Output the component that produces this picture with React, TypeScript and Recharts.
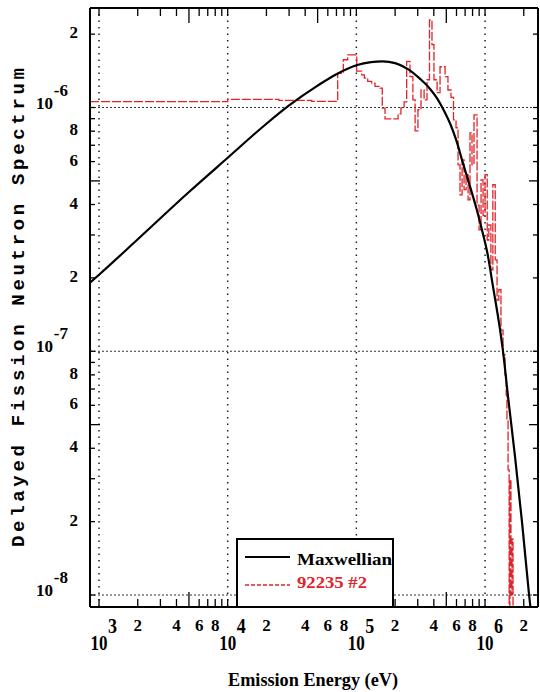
import React from 'react'
import { LineChart, Line, XAxis, YAxis, ReferenceLine, Legend } from 'recharts'

// ─── Data (eV, spectrum) ────────────────────────────────────────────
const MAXW_E = [
  851, 1000, 2000, 5000, 10000, 20000, 30000, 50000, 70000, 100000, 130000,
  160000, 200000, 250000, 313000, 370000, 424000, 480000, 540000, 600000,
  674000, 764000, 866000, 965000, 1040000, 1150000, 1310000, 1380000,
  1510000, 1710000, 1940000, 2200000, 2400000,
]
const MAXW_FLUX = [
  1.91e-7, 2.06e-7, 2.88e-7, 4.5e-7, 6.22e-7, 8.58e-7, 1.02e-6, 1.23e-6,
  1.37e-6, 1.49e-6, 1.535e-6, 1.545e-6, 1.52e-6, 1.44e-6, 1.31e-6, 1.2e-6,
  1.09e-6, 9.7e-7, 8.5e-7, 7.3e-7, 5.9e-7, 4.75e-7, 3.78e-7, 3.02e-7,
  2.55e-7, 1.86e-7, 1.22e-7, 1.0e-7, 6.5e-8, 3.7e-8, 1.98e-8, 1.0e-8, 6.6e-9,
]

// histogram bins: value holds from each edge to the next
const DFN_E = [
  851, 10000, 25000, 45000, 71600, 79200, 85700, 100700, 110000, 115300,
  122500, 131600, 139600, 152700, 159000, 167000, 211000, 222000, 235000,
  246000, 261000, 275000, 286000, 301000, 318000, 336000, 354000, 370000,
  387000, 401000, 424000, 447000, 489000, 515000, 544000, 569000, 595000,
  617000, 639000, 663000, 687000, 712000, 738000, 764000, 792000, 821000,
  867000, 899000, 931000, 965000, 1000000, 1040000, 1070000, 1110000,
  1150000, 1200000, 1240000, 1280000, 1330000, 1380000, 1430000, 1460000,
  1480000, 1510000, 1540000, 1560000, 1590000, 1620000, 1650000, 1700000,
]
const DFN_FLUX = [
  1.058e-6, 1.08e-6, 1.07e-6, 1.06e-6, 1.38e-6, 1.57e-6, 1.645e-6, 1.41e-6,
  1.36e-6, 1.32e-6, 1.28e-6, 1.26e-6, 1.22e-6, 1.2e-6, 9.95e-7, 8.99e-7,
  9.42e-7, 9.97e-7, 1.055e-6, 1.545e-6, 1.34e-6, 1.075e-6, 8.02e-7, 9.79e-7,
  1.18e-6, 1.075e-6, 1.3e-6, 2.29e-6, 1.81e-6, 1.3e-6, 1.15e-6, 1.47e-6,
  1.34e-6, 1.18e-6, 1.1e-6, 8.9e-7, 8.26e-7, 5.82e-7, 4.38e-7, 6.1e-7,
  4.6e-7, 5.3e-7, 4.18e-7, 7.87e-7, 5.82e-7, 9.33e-7, 3.98e-7, 3.15e-7,
  5.05e-7, 3.6e-7, 5.3e-7, 2.86e-7, 3.3e-7, 2.16e-7, 4.82e-7, 2.37e-7,
  1.62e-7, 1.79e-7, 1.22e-7, 9.66e-8, 8.0e-8, 6.62e-8, 5.23e-8, 3.26e-8,
  5e-9, 2.97e-8, 1.0e-8, 1.7e-8, 5e-9, 5e-9,
]

const X_DECADES = [1e3, 1e4, 1e5, 1e6]
const Y_DECADES = [1e-8, 1e-7, 1e-6]
const MANTISSAS = [1, 2, 3, 4, 5, 6, 7, 8, 9]
const LABELED = [2, 4, 6, 8]
const X_DOMAIN = [851, 2.58e6]
const Y_DOMAIN = [8.93e-9, 2.56e-6]

const inDomain = (v: number, d: number[]) => v >= d[0] && v <= d[1]
const X_TICKS = X_DECADES.flatMap(d => MANTISSAS.map(m => m * d)).filter(v => inDomain(v, X_DOMAIN))
const Y_TICKS = Y_DECADES.flatMap(d => MANTISSAS.map(m => m * d)).filter(v => inDomain(v, Y_DOMAIN))

const maxwData = MAXW_E.map((e, i) => ({ e, flux: MAXW_FLUX[i] }))
const dfnData = DFN_E.map((e, i) => ({ e, flux: DFN_FLUX[i] }))

const RED = '#e2242a'
const INK = '#000'
const SERIES: Record<string, { color: string; dash?: string }> = {
  Maxwellian: { color: INK },
  '92235 #2': { color: RED, dash: '4 2' },
}
const LEGEND_ORDER = ['Maxwellian', '92235 #2']

const tickFont: React.CSSProperties = {
  fontFamily: '"Liberation Serif", serif',
  fontWeight: 700,
  fontSize: 17,
  fill: INK,
}
const decadeFont: React.CSSProperties = { ...tickFont, fontSize: 21 }

function split(v: number) {
  const exp = Math.floor(Math.log10(v) + 1e-9)
  return { exp, mant: Math.round(v / Math.pow(10, exp)) }
}

// ─── Tick renderers (marks point into the plot) ──────────────────────
function BottomTick({ x, y, payload }: any) {
  const { exp, mant } = split(payload.value)
  const len = mant === 5 ? 15 : 8
  return (
    <g>
      <line x1={x} y1={y} x2={x} y2={y - len} stroke={INK} strokeWidth={1.3} />
      {mant === 1 && (
        <g>
          <text x={x} y={y + 43} textAnchor="middle" textLength={17}
            lengthAdjust="spacingAndGlyphs" style={decadeFont}>10</text>
          <text x={x + 9} y={y + 26} textLength={9}
            lengthAdjust="spacingAndGlyphs" style={decadeFont}>{String(exp)}</text>
        </g>
      )}
      {LABELED.includes(mant) && (
        <text x={x} y={y + 24} textAnchor="middle" style={tickFont}>{mant}</text>
      )}
    </g>
  )
}

function TopTick({ x, y, payload }: any) {
  const { mant } = split(payload.value)
  const len = mant === 5 ? 15 : 8
  return <line x1={x} y1={y} x2={x} y2={y + len} stroke={INK} strokeWidth={1.3} />
}

function LeftTick({ x, y, payload }: any) {
  const { exp, mant } = split(payload.value)
  const len = mant === 5 ? 10 : 5
  return (
    <g>
      <line x1={x} y1={y} x2={x + len} y2={y} stroke={INK} strokeWidth={1.3} />
      {mant === 1 && (
        <g>
          <text x={x - 37} y={y + 1} textAnchor="end" style={tickFont}>10</text>
          <text x={x - 22} y={y - 12} textAnchor="end" style={tickFont}>{String(exp)}</text>
        </g>
      )}
      {LABELED.includes(mant) && (
        <text x={x - 12} y={y + 4} textAnchor="end" style={tickFont}>{mant}</text>
      )}
    </g>
  )
}

function RightTick({ x, y, payload }: any) {
  const { mant } = split(payload.value)
  const len = mant === 5 ? 9 : 5
  return <line x1={x} y1={y} x2={x - len} y2={y} stroke={INK} strokeWidth={1.3} />
}

function YTitle() {
  return (
    <text
      transform="translate(23.5,307.5) rotate(-90)"
      textAnchor="middle"
      textLength={479}
      lengthAdjust="spacing"
      style={{ fontFamily: '"Liberation Mono", monospace', fontWeight: 700, fontSize: 19, fill: INK }}
    >
      Delayed Fission Neutron Spectrum
    </text>
  )
}

function XTitle() {
  return (
    <text
      x={313}
      y={686}
      textAnchor="middle"
      textLength={170}
      lengthAdjust="spacingAndGlyphs"
      style={{ ...tickFont, fontSize: 18 }}
    >
      Emission Energy (eV)
    </text>
  )
}

function LegendBox({ payload }: any) {
  const items = [...(payload ?? [])].sort(
    (a: any, b: any) => LEGEND_ORDER.indexOf(a.value) - LEGEND_ORDER.indexOf(b.value)
  )
  const rows = [
    { line: 19, base: 27, len: 95 },
    { line: 47, base: 50, len: 70 },
  ]
  return (
    <svg width={158} height={70} style={{ display: 'block' }}>
      <rect x={1} y={1} width={156} height={68} fill="#fff" stroke={INK} strokeWidth={2} />
      {items.map((it: any, i: number) => {
        const s = SERIES[it.value] ?? { color: it.color }
        const r = rows[i]
        return (
          <g key={it.value}>
            <line x1={9} x2={54} y1={r.line} y2={r.line} stroke={s.color}
              strokeWidth={s.dash ? 1.3 : 2} strokeDasharray={s.dash} />
            <text x={61} y={r.base} textLength={r.len} lengthAdjust="spacingAndGlyphs"
              style={{ ...tickFont, fill: s.color }}>
              {it.value}
            </text>
          </g>
        )
      })}
    </svg>
  )
}

export default function App() {
  return (
    <div style={{ position: 'absolute', left: 0, top: 0, width: 540, height: 692, background: '#fff' }}>
      <LineChart width={540} height={692} margin={{ top: 7, right: 1, bottom: 55, left: 30 }}>
        <XAxis
          dataKey="e" type="number" scale="log" domain={X_DOMAIN} allowDataOverflow
          ticks={X_TICKS} interval={0} tick={<BottomTick />} tickLine={false}
          tickSize={0} tickMargin={0} height={30}
          axisLine={{ stroke: INK, strokeWidth: 2 }}
          label={<XTitle />}
        />
        <XAxis
          xAxisId="top" orientation="top" dataKey="e" type="number" scale="log"
          domain={X_DOMAIN} allowDataOverflow ticks={X_TICKS} interval={0}
          tick={<TopTick />} tickLine={false} tickSize={0} tickMargin={0} height={1}
          axisLine={{ stroke: INK, strokeWidth: 2 }}
        />
        <YAxis
          type="number" scale="log" domain={Y_DOMAIN} allowDataOverflow
          ticks={Y_TICKS} interval={0} tick={<LeftTick />} tickLine={false}
          tickSize={0} tickMargin={0} width={60}
          axisLine={{ stroke: INK, strokeWidth: 2 }}
          label={<YTitle />}
        />
        <YAxis
          yAxisId="right" orientation="right" type="number" scale="log"
          domain={Y_DOMAIN} allowDataOverflow ticks={Y_TICKS} interval={0}
          tick={<RightTick />} tickLine={false} tickSize={0} tickMargin={0} width={1}
          axisLine={{ stroke: INK, strokeWidth: 2 }}
        />

        {X_DECADES.map(v => (
          <ReferenceLine key={`vx-${v}`} x={v} stroke="#222" strokeWidth={1.5} strokeDasharray="1.5 5" />
        ))}
        {Y_DECADES.map(v => (
          <ReferenceLine key={`hy-${v}`} y={v} stroke="#333" strokeWidth={1} strokeDasharray="2 2" />
        ))}

        <Line
          data={dfnData} dataKey="flux" name="92235 #2" type="stepAfter"
          stroke={RED} strokeWidth={1.3} strokeDasharray="9 2"
          dot={false} activeDot={false} isAnimationActive={false}
        />
        <Line
          data={maxwData} dataKey="flux" name="Maxwellian" type="monotone"
          stroke={INK} strokeWidth={2.2}
          dot={false} activeDot={false} isAnimationActive={false}
        />

        <Legend
          layout="vertical" align="center" verticalAlign="middle"
          wrapperStyle={{ left: 236, top: 538, width: 158, height: 70 }}
          content={<LegendBox />}
        />
      </LineChart>
    </div>
  )
}
